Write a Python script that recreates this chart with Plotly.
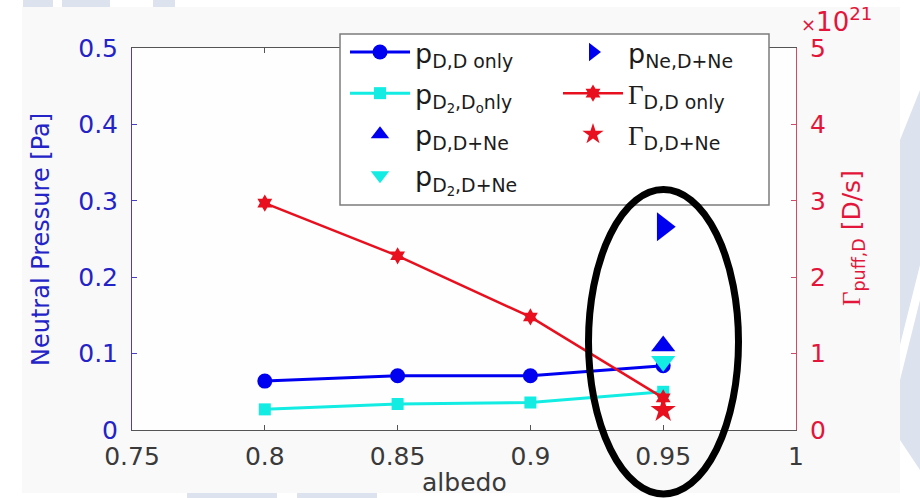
import plotly.graph_objects as go

# ---- data -------------------------------------------------------------
albedo = [0.8, 0.85, 0.9, 0.95]
p_D_D_only = [0.064, 0.071, 0.071, 0.084]          # Pa
p_D2_D_only = [0.027, 0.034, 0.036, 0.050]         # Pa
gamma_D_D_only = [2.97, 2.28, 1.48, 0.42]          # 1e21 D/s

albedo_ne = [0.95]
p_D_DNe = [0.110]                                  # Pa
p_D2_DNe = [0.090]                                 # Pa
p_Ne_DNe = [0.266]                                 # Pa
gamma_D_DNe = [0.26]                               # 1e21 D/s

x_ticks = [0.75, 0.8, 0.85, 0.9, 0.95, 1.0]
x_tick_text = ["0.75", "0.8", "0.85", "0.9", "0.95", "1"]
p_ticks = [0, 0.1, 0.2, 0.3, 0.4, 0.5]
p_tick_text = ["0", "0.1", "0.2", "0.3", "0.4", "0.5"]
g_ticks = [0, 1, 2, 3, 4, 5]
g_tick_text = ["0", "1", "2", "3", "4", "5"]

# ---- styling ----------------------------------------------------------
W, H = 920, 498
L, R, T, B = 132, 124, 48, 68
FONT = "DejaVu Sans"
BLUE = "#0000f0"
CYAN = "#12ece2"
RED = "#e8101e"
AX_BLUE = "#2323c8"
AX_RED = "#e3153a"
GREY_TXT = "#3a3a3a"
DECO = "#dce3ef"


def px(x):
    """pixel column -> paper x"""
    return (x - L) / (W - L - R)


def py(y):
    """pixel row -> paper y"""
    return (H - B - y) / (H - T - B)


GAMMA = '<span style="font-family:Liberation Serif">Γ</span>'

fig = go.Figure()

fig.add_trace(go.Scatter(
    x=albedo, y=p_D_D_only, mode="lines+markers",
    name="p<sub>D,D only</sub>", legend="legend", legendgroup="a",
    line=dict(color=BLUE, width=3),
    marker=dict(symbol="circle", size=15, color=BLUE)))
fig.add_trace(go.Scatter(
    x=albedo, y=p_D2_D_only, mode="lines+markers",
    name="p<sub>D<sub>2</sub>,D<sub>o</sub>nly</sub>", legend="legend", legendgroup="b",
    line=dict(color=CYAN, width=3),
    marker=dict(symbol="square", size=12, color=CYAN)))
fig.add_trace(go.Scatter(
    x=albedo_ne, y=p_D_DNe, mode="markers",
    name="p<sub>D,D+Ne</sub>", legend="legend", legendgroup="c",
    marker=dict(symbol="triangle-up", size=21, color=BLUE)))
fig.add_trace(go.Scatter(
    x=albedo_ne, y=p_D2_DNe, mode="markers",
    name="p<sub>D<sub>2</sub>,D+Ne</sub>", legend="legend", legendgroup="d",
    marker=dict(symbol="triangle-down", size=21, color=CYAN)))
fig.add_trace(go.Scatter(
    x=albedo_ne, y=p_Ne_DNe, mode="markers",
    name="p<sub>Ne,D+Ne</sub>", legend="legend2", legendgroup="e",
    marker=dict(symbol="triangle-right", size=25, color=BLUE)))
fig.add_trace(go.Scatter(
    x=albedo, y=gamma_D_D_only, mode="lines+markers", yaxis="y2",
    name=GAMMA + "<sub>D,D only</sub>", legend="legend2", legendgroup="f",
    line=dict(color=RED, width=2.5),
    marker=dict(symbol="hexagram", size=13, color=RED)))
fig.add_trace(go.Scatter(
    x=albedo_ne, y=gamma_D_DNe, mode="markers", yaxis="y2",
    name=GAMMA + "<sub>D,D+Ne</sub>", legend="legend2", legendgroup="g",
    marker=dict(symbol="star", size=19, color=RED)))

legend_common = dict(
    orientation="v", bgcolor="rgba(0,0,0,0)", borderwidth=0,
    font=dict(family=FONT, size=27, color="#1c1c1c"),
    itemwidth=60, tracegroupgap=3, yanchor="top", xanchor="left",
    itemclick=False, itemdoubleclick=False,
)

shapes = [
    # slide background blocks
    dict(type="rect", xref="paper", yref="paper", x0=px(23), x1=px(53), y0=py(0), y1=py(7),
         fillcolor=DECO, line_width=0, layer="below"),
    dict(type="rect", xref="paper", yref="paper", x0=px(62), x1=px(110), y0=py(0), y1=py(7),
         fillcolor=DECO, line_width=0, layer="below"),
    dict(type="rect", xref="paper", yref="paper", x0=px(153), x1=px(175), y0=py(0), y1=py(7),
         fillcolor=DECO, line_width=0, layer="below"),
    dict(type="rect", xref="paper", yref="paper", x0=px(187), x1=px(277), y0=py(493), y1=py(498),
         fillcolor=DECO, line_width=0, layer="below"),
    dict(type="rect", xref="paper", yref="paper", x0=px(297), x1=px(377), y0=py(493), y1=py(498),
         fillcolor=DECO, line_width=0, layer="below"),
    dict(type="path", xref="paper", yref="paper", layer="below", fillcolor=DECO, line_width=0,
         path=f"M {px(900)},{py(140)} L {px(920)},{py(90)} L {px(920)},{py(265)} L {px(900)},{py(345)} Z"),
    dict(type="path", xref="paper", yref="paper", layer="below", fillcolor=DECO, line_width=0,
         path=f"M {px(900)},{py(380)} L {px(920)},{py(300)} L {px(920)},{py(470)} L {px(900)},{py(440)} Z"),
    # figure panel
    dict(type="rect", xref="paper", yref="paper", x0=px(22), x1=px(900), y0=py(493), y1=py(7),
         fillcolor="#f9f9f9", line_width=0, layer="below"),
    dict(type="rect", xref="paper", yref="paper", x0=0, x1=1, y0=0, y1=1,
         fillcolor="#fefefe", line_width=0, layer="below"),
    # legend frame
    dict(type="rect", xref="paper", yref="paper", x0=px(340), x1=px(769), y0=py(205), y1=py(34),
         fillcolor="white", line=dict(color="#7c7c7c", width=1.5), layer="above"),
    # highlight ring around albedo = 0.95
    dict(type="circle", xref="paper", yref="paper", x0=px(588.5), x1=px(738.5),
         y0=py(494), y1=py(189.5), line=dict(color="black", width=7), layer="above"),
]

annotations = [
    dict(text="Neutral Pressure [Pa]", xref="paper", yref="paper", x=px(41), y=py(239),
         xanchor="center", yanchor="middle", textangle=-90, showarrow=False,
         font=dict(family=FONT, size=24, color=AX_BLUE)),
    dict(text=GAMMA + "<sub>puff,D</sub> [D/s]", xref="paper", yref="paper", x=px(853), y=py(238),
         xanchor="center", yanchor="middle", textangle=-90, showarrow=False,
         font=dict(family=FONT, size=25, color=AX_RED)),
    dict(text="albedo", xref="paper", yref="paper", x=0.5, y=py(482),
         xanchor="center", yanchor="middle", showarrow=False,
         font=dict(family=FONT, size=25, color=GREY_TXT)),
    dict(text='<span style="font-size:18px">×</span>10<sup>21</sup>', xref="paper", yref="paper",
         x=px(799), y=py(39), xanchor="left", yanchor="bottom", showarrow=False,
         font=dict(family=FONT, size=26, color=AX_RED)),
]

fig.update_layout(
    width=W, height=H, autosize=False,
    margin=dict(l=L, r=R, t=T, b=B, pad=0),
    paper_bgcolor="white", plot_bgcolor="rgba(0,0,0,0)",
    showlegend=True,
    legend=dict(x=px(345), y=py(28), **legend_common),
    legend2=dict(x=px(558), y=py(28), **legend_common),
    xaxis=dict(range=[0.75, 1.0], tickvals=x_ticks, ticktext=x_tick_text,
               showline=True, linecolor="#555555", linewidth=1, mirror="ticks",
               ticks="inside", ticklen=5, tickcolor="#555555", ticklabelstandoff=4,
               tickfont=dict(family=FONT, size=25, color=GREY_TXT),
               showgrid=False, zeroline=False),
    yaxis=dict(range=[0, 0.5], tickvals=p_ticks, ticktext=p_tick_text,
               showline=True, linecolor="#4a3fc0", linewidth=1,
               ticks="inside", ticklen=5, tickcolor="#4a3fc0", ticklabelstandoff=8,
               tickfont=dict(family=FONT, size=25, color=AX_BLUE),
               showgrid=False, zeroline=False),
    yaxis2=dict(range=[0, 5], tickvals=g_ticks, ticktext=g_tick_text,
                overlaying="y", side="right",
                showline=True, linecolor="#d04a6a", linewidth=1,
                ticks="inside", ticklen=5, tickcolor="#d04a6a", ticklabelstandoff=8,
                tickfont=dict(family=FONT, size=25, color=AX_RED),
                showgrid=False, zeroline=False),
    shapes=shapes,
    annotations=annotations,
)

fig.write_html("out.html")
